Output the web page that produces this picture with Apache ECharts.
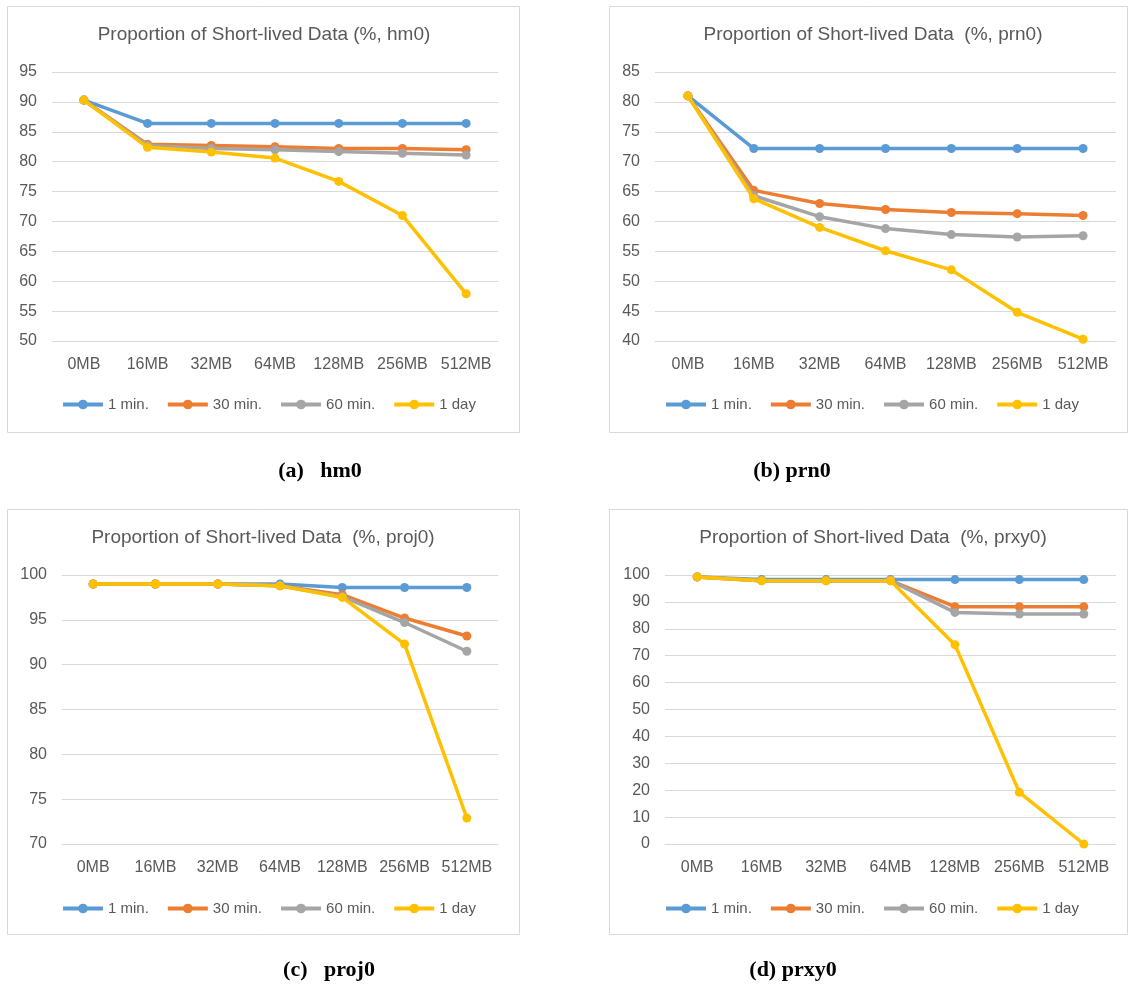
<!DOCTYPE html>
<html>
<head>
<meta charset="utf-8">
<script src="https://cdn.jsdelivr.net/npm/echarts@6/dist/echarts.min.js"></script>
<style>
html,body{margin:0;padding:0;background:#fff;}
#chart{width:1128px;height:985px;}
</style>
</head>
<body>
<div id="chart"></div>
<script>
// ---- data ----
const categories = ['0MB','16MB','32MB','64MB','128MB','256MB','512MB'];
const seriesNames = ['1 min.','30 min.','60 min.','1 day'];

const hm0_1min  = [90.3, 86.4, 86.4, 86.4, 86.4, 86.4, 86.4];
const hm0_30min = [90.3, 82.9, 82.7, 82.5, 82.2, 82.2, 82.0];
const hm0_60min = [90.3, 82.7, 82.2, 82.0, 81.7, 81.4, 81.1];
const hm0_1day  = [90.3, 82.4, 81.6, 80.6, 76.7, 71.0, 57.9];

const prn0_1min  = [81.0, 72.2, 72.2, 72.2, 72.2, 72.2, 72.2];
const prn0_30min = [81.0, 65.2, 63.0, 62.0, 61.5, 61.3, 61.0];
const prn0_60min = [81.0, 64.3, 60.8, 58.8, 57.8, 57.4, 57.6];
const prn0_1day  = [81.0, 63.8, 59.0, 55.1, 51.9, 44.8, 40.3];

const proj0_1min  = [99.0, 99.0, 99.0, 99.0, 98.6, 98.6, 98.6];
const proj0_30min = [99.0, 99.0, 99.0, 98.8, 97.8, 95.2, 93.2];
const proj0_60min = [99.0, 99.0, 99.0, 98.8, 97.6, 94.7, 91.5];
const proj0_1day  = [99.0, 99.0, 99.0, 98.8, 97.5, 92.3, 72.9];

const prxy0_1min  = [99.3, 98.3, 98.3, 98.3, 98.3, 98.3, 98.3];
const prxy0_30min = [99.3, 97.9, 97.9, 97.9, 88.2, 88.2, 88.2];
const prxy0_60min = [99.3, 97.9, 97.9, 97.9, 86.1, 85.5, 85.5];
const prxy0_1day  = [99.3, 97.9, 97.9, 97.9, 74.1, 19.2, 0.0];

const titles = ['Proportion of Short-lived Data (%, hm0)',
                'Proportion of Short-lived Data  (%, prn0)',
                'Proportion of Short-lived Data  (%, proj0)',
                'Proportion of Short-lived Data  (%, prxy0)'];
const captions = ['(a)   hm0', '(b) prn0', '(c)   proj0', '(d) prxy0'];

const yMin = [50, 40, 70, 0];
const yMax = [95, 85, 100, 100];
const yInterval = [5, 5, 5, 10];

const panelData = [
  [hm0_1min, hm0_30min, hm0_60min, hm0_1day],
  [prn0_1min, prn0_30min, prn0_60min, prn0_1day],
  [proj0_1min, proj0_30min, proj0_60min, proj0_1day],
  [prxy0_1min, prxy0_30min, prxy0_60min, prxy0_1day]
];

// ---- layout / style ----
const colors = ['#5B9BD5', '#ED7D31', '#A5A5A5', '#FFC000'];
const textColor = '#595959';
const gridLineColor = '#D9D9D9';
const font = '"Liberation Sans", Arial, sans-serif';

const panels = [
  {x: 7,   y: 6,   w: 512, h: 426},
  {x: 609, y: 6,   w: 518, h: 426},
  {x: 7,   y: 509, w: 512, h: 425},
  {x: 609, y: 509, w: 518, h: 425}
];
const grids = [
  {left: 52,  top: 72,  width: 446, height: 269},
  {left: 655, top: 72,  width: 461, height: 269},
  {left: 62,  top: 575, width: 436, height: 269},
  {left: 665, top: 575, width: 451, height: 269}
];
const titlePos = [
  {cx: 264, cy: 35}, {cx: 873, cy: 35}, {cx: 263, cy: 538}, {cx: 873, cy: 538}
];
const legendPos = [
  {left: 61, top: 397}, {left: 664, top: 397}, {left: 61, top: 901}, {left: 664, top: 901}
];
const captionPos = [
  {cx: 320, cy: 471}, {cx: 792, cy: 471}, {cx: 329, cy: 970}, {cx: 793, cy: 970}
];

const chart = echarts.init(document.getElementById('chart'), null, {renderer: 'canvas'});

const option = {
  animation: false,
  backgroundColor: '#ffffff',
  color: colors,
  title: [],
  legend: [],
  grid: [],
  xAxis: [],
  yAxis: [],
  series: [],
  graphic: []
};

for (let i = 0; i < 4; i++) {
  const p = panels[i];
  option.graphic.push({
    type: 'rect', silent: true, z: -1,
    shape: {x: p.x + 0.5, y: p.y + 0.5, width: p.w, height: p.h},
    style: {fill: '#fff', stroke: '#D9D9D9', lineWidth: 1}
  });
  option.graphic.push({
    type: 'text', silent: true,
    x: titlePos[i].cx, y: titlePos[i].cy,
    style: {text: titles[i], fill: textColor, font: '19px ' + font,
            align: 'center', verticalAlign: 'middle'}
  });
  option.graphic.push({
    type: 'text', silent: true,
    x: captionPos[i].cx, y: captionPos[i].cy,
    style: {text: captions[i], fill: '#000', font: 'bold 22px "Liberation Serif", "Times New Roman", serif',
            align: 'center', verticalAlign: 'middle'}
  });

  option.grid.push(Object.assign({containLabel: false}, grids[i]));
  option.xAxis.push({
    type: 'category', gridIndex: i, data: categories, boundaryGap: true,
    axisTick: {show: false},
    axisLine: {show: true, lineStyle: {color: gridLineColor, width: 1}},
    axisLabel: {color: textColor, fontSize: 16, fontFamily: font, margin: 16,
                interval: 0, hideOverlap: false}
  });
  option.yAxis.push({
    type: 'value', gridIndex: i, min: yMin[i], max: yMax[i], interval: yInterval[i],
    axisLine: {show: false}, axisTick: {show: false},
    splitLine: {lineStyle: {color: gridLineColor, width: 1}},
    axisLabel: {color: textColor, fontSize: 16, fontFamily: font, margin: 15}
  });
  option.legend.push({
    left: legendPos[i].left, top: legendPos[i].top,
    orient: 'horizontal', padding: 0,
    itemWidth: 40, itemHeight: 12, itemGap: 17,
    lineStyle: {width: 4},
    textStyle: {color: textColor, fontSize: 15, fontFamily: font},
    data: seriesNames,
    selectedMode: false
  });
  for (let s = 0; s < 4; s++) {
    option.series.push({
      name: seriesNames[s], type: 'line', xAxisIndex: i, yAxisIndex: i,
      data: panelData[i][s],
      symbol: 'circle', symbolSize: 9, showSymbol: true,
      lineStyle: {width: 3.5, color: colors[s]},
      itemStyle: {color: colors[s]},
      z: 2 + s
    });
  }
}

chart.setOption(option);
</script>
</body>
</html>
